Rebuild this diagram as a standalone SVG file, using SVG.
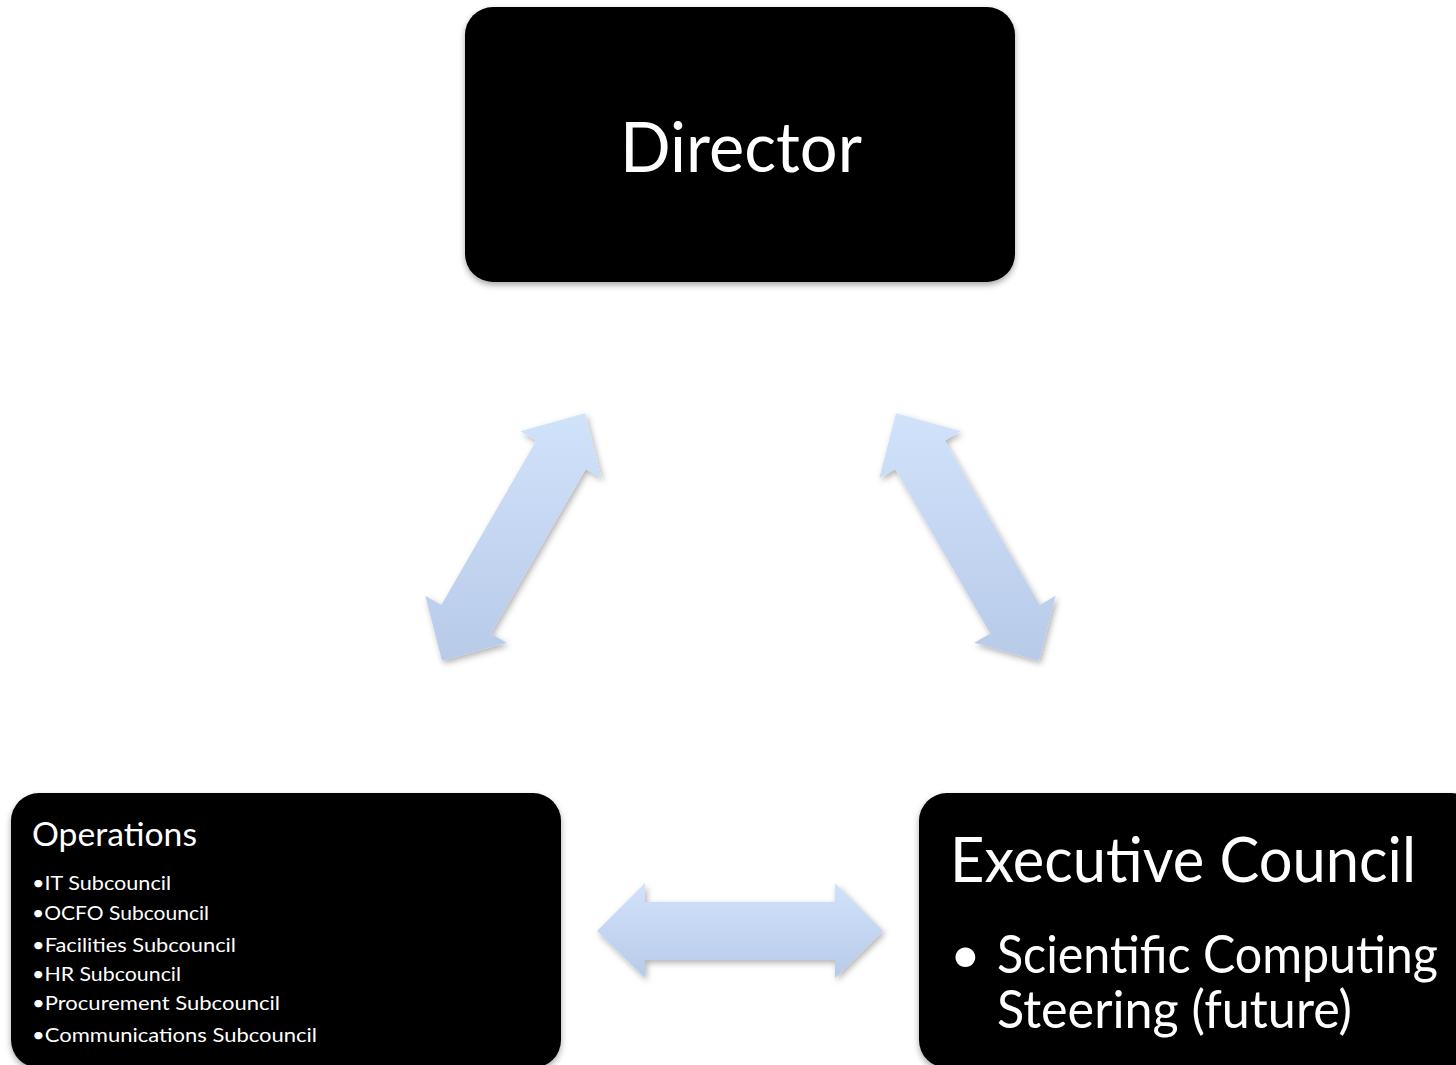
<svg xmlns="http://www.w3.org/2000/svg" width="1456" height="1065" viewBox="0 0 1456 1065">
<style>
.box{fill:#000;filter:url(#sh)}
.arr{fill:url(#ag);filter:url(#ash)}
text{fill:#fff;font-family:Lato,"Open Sans","DejaVu Sans",sans-serif}
.li{font-size:20px}
</style>
<defs>
<linearGradient id="ag" x1="0" y1="0" x2="0" y2="1">
<stop offset="0" stop-color="#d1e2fb"/>
<stop offset="1" stop-color="#b7cae8"/>
</linearGradient>
<filter id="sh" x="-5%" y="-5%" width="110%" height="115%">
<feDropShadow dx="0" dy="3" stdDeviation="3" flood-color="#000" flood-opacity="0.35"/>
</filter>
<filter id="ash" x="-10%" y="-10%" width="125%" height="125%">
<feDropShadow dx="2" dy="3" stdDeviation="3" flood-color="#000" flood-opacity="0.3"/>
</filter>
</defs>
<rect width="1456" height="1065" fill="#fff"/>
<g id="connectors">
<polygon class="arr" points="585,413.2 520.3,431.2 536.3,440.5 441.3,605 425.3,595.8 442,660.8 506.7,642.8 490.7,633.6 585.7,469 601.7,478.2"/>
<polygon class="arr" points="896,413.2 960.7,431.2 944.7,440.5 1039.7,605 1055.7,595.8 1039,660.8 974.3,642.8 990.3,633.6 895.3,469 879.3,478.2"/>
<polygon class="arr" points="597,931 645,883 645,902 835,902 835,883 883,931 835,978 835,960 645,960 645,978"/>
</g>
<g id="director">
<rect class="box" x="465" y="7" width="550" height="275" rx="28"/>
<text x="741" y="172" font-size="70" text-anchor="middle" textLength="242" lengthAdjust="spacingAndGlyphs">Director</text>
</g>
<g id="operations">
<rect class="box" x="11" y="793" width="550" height="275" rx="28"/>
<text x="32" y="846" font-size="33" textLength="165" lengthAdjust="spacingAndGlyphs">Operations</text>
<text class="li" x="32" y="890" textLength="139" lengthAdjust="spacingAndGlyphs">•IT Subcouncil</text>
<text class="li" x="32" y="920" textLength="177" lengthAdjust="spacingAndGlyphs">•OCFO Subcouncil</text>
<text class="li" x="32" y="952" textLength="204" lengthAdjust="spacingAndGlyphs">•Facilities Subcouncil</text>
<text class="li" x="32" y="981" textLength="149" lengthAdjust="spacingAndGlyphs">•HR Subcouncil</text>
<text class="li" x="32" y="1010" textLength="248" lengthAdjust="spacingAndGlyphs">•Procurement Subcouncil</text>
<text class="li" x="32" y="1042" textLength="285" lengthAdjust="spacingAndGlyphs">•Communications Subcouncil</text>
</g>
<g id="executive-council">
<rect class="box" x="919" y="793" width="560" height="275" rx="28"/>
<text x="950" y="882" font-size="61" textLength="466" lengthAdjust="spacingAndGlyphs">Executive Council</text>
<text x="950" y="973" font-size="53">•</text>
<text x="997" y="973" font-size="53" textLength="441" lengthAdjust="spacingAndGlyphs">Scientific Computing</text>
<text x="997" y="1028" font-size="53" textLength="355" lengthAdjust="spacingAndGlyphs">Steering (future)</text>
</g>
</svg>
